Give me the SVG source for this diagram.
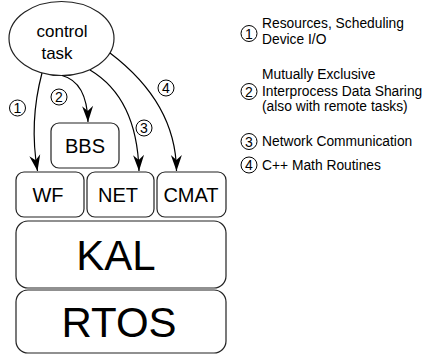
<svg xmlns="http://www.w3.org/2000/svg" width="425" height="354" viewBox="0 0 425 354">
<style>
text{font-family:"Liberation Sans",Arial,sans-serif;fill:#000}
.box{fill:#fff;stroke:#222;stroke-width:1.2}
.conn{fill:none;stroke:#000;stroke-width:1.2}
.num{fill:#fff;stroke:#000;stroke-width:1}
.nt{font-size:14px;text-anchor:middle}
.lg{font-size:13.8px}
.bt{font-size:20px;text-anchor:middle}
.big{font-size:42px;text-anchor:middle}
</style>
<defs>
<marker id="ah" markerUnits="userSpaceOnUse" viewBox="-17 -7 18 14" refX="0" refY="0" markerWidth="18" markerHeight="14" orient="auto">
<path d="M0,0 L-16,-5.5 L-11,0 L-16,5.5 Z" fill="#000"/>
</marker>
</defs>
<g id="control-task">
<ellipse class="box" cx="61.5" cy="38.5" rx="52.5" ry="37"/>
<text x="62" y="37" style="font-size:17px" text-anchor="middle">control</text>
<text x="57" y="59" style="font-size:17px" text-anchor="middle">task</text>
</g>
<g id="BBS"><rect class="box" x="51" y="123" width="68" height="45" rx="8"/><text class="bt" x="85" y="152.5">BBS</text></g>
<g id="WF"><rect class="box" x="16" y="172" width="68" height="45" rx="8"/><text class="bt" x="48" y="201.5">WF</text></g>
<g id="NET"><rect class="box" x="87" y="172" width="67" height="45" rx="8"/><text class="bt" x="118" y="201.5">NET</text></g>
<g id="CMAT"><rect class="box" x="157" y="172" width="69" height="45" rx="8"/><text class="bt" x="191" y="201.5">CMAT</text></g>
<g id="KAL"><rect class="box" x="16" y="221" width="210" height="67" rx="12"/><text class="big" x="116" y="270">KAL</text></g>
<g id="RTOS"><rect class="box" x="16" y="290" width="210" height="63" rx="12"/><text class="big" x="119" y="337">RTOS</text></g>
<g id="connectors">
<path class="conn" d="M42,73 Q29,122 37.5,171" marker-end="url(#ah)"/>
<path class="conn" d="M62,75.5 Q87,82 88,122" marker-end="url(#ah)"/>
<path class="conn" d="M90,70 Q137,98 139,171" marker-end="url(#ah)"/>
<path class="conn" d="M110,53 Q176,103 176.5,171" marker-end="url(#ah)"/>
<circle class="num" cx="17.5" cy="108" r="8"/><text class="nt" x="17.5" y="113">1</text>
<circle class="num" cx="59" cy="97" r="8"/><text class="nt" x="59" y="102">2</text>
<circle class="num" cx="144" cy="128" r="8"/><text class="nt" x="144" y="133">3</text>
<circle class="num" cx="166" cy="88" r="8"/><text class="nt" x="166" y="93">4</text>
</g>
<g id="legend">
<circle class="num" cx="249" cy="33.5" r="8"/><text class="nt" x="249" y="38.5">1</text>
<text class="lg" x="262" y="28">Resources, Scheduling</text>
<text class="lg" x="262" y="44">Device I/O</text>
<circle class="num" cx="249" cy="91.5" r="8"/><text class="nt" x="249" y="96.5">2</text>
<text class="lg" x="262" y="79">Mutually Exclusive</text>
<text class="lg" x="262" y="95.5">Interprocess Data Sharing</text>
<text class="lg" x="262" y="111">(also with remote tasks)</text>
<circle class="num" cx="249" cy="141.5" r="8"/><text class="nt" x="249" y="146.5">3</text>
<text class="lg" x="262" y="146">Network Communication</text>
<circle class="num" cx="249" cy="165" r="8"/><text class="nt" x="249" y="170">4</text>
<text class="lg" x="262" y="169.5">C++ Math Routines</text>
</g>
</svg>
